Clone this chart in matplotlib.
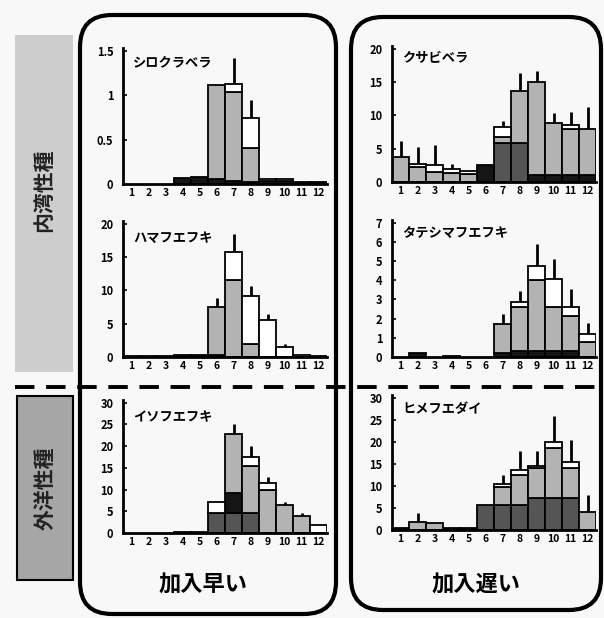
import matplotlib
matplotlib.use('Agg')
import matplotlib.pyplot as plt
from matplotlib.patches import FancyBboxPatch, Rectangle
import numpy as np

plt.rcParams['font.family'] = ['Noto Sans CJK JP', 'DejaVu Sans']
plt.rcParams['font.weight'] = 'bold'

months = np.arange(1, 13)
month_labels = [str(m) for m in months]

# layers per month, stacked bottom->top: mid (dark gray), dark (black), gray, white
# err_top = upper end of the error bar (0 = none)
shiro_name = 'シロクラベラ'
shiro_mid = [0] * 12
shiro_dark = [0, 0, 0, 0.07, 0.08, 0.06, 0.03, 0.02, 0.03, 0.03, 0.02, 0.02]
shiro_gray = [0, 0, 0, 0, 0, 1.05, 1.0, 0.38, 0, 0, 0, 0]
shiro_white = [0, 0, 0, 0, 0, 0, 0.09, 0.34, 0.03, 0.03, 0, 0]
shiro_err = [0, 0, 0, 0, 0, 0, 1.42, 0.94, 0, 0, 0, 0]

kusabi_name = 'クサビベラ'
kusabi_mid = [0, 0, 0, 0, 0, 0, 5.8, 5.8, 0, 0, 0, 0]
kusabi_dark = [0, 0, 0, 0, 0, 2.5, 0, 0, 1.0, 1.0, 1.0, 1.0]
kusabi_gray = [3.7, 2.2, 1.5, 1.4, 1.2, 0, 0.9, 7.9, 14.0, 7.8, 7.0, 7.0]
kusabi_white = [0, 0.5, 1.0, 0.5, 0.5, 0, 1.5, 0, 0, 0, 0.5, 0]
kusabi_err = [6.2, 5.2, 5.5, 2.7, 0, 0, 9.2, 16.3, 16.7, 10.3, 10.5, 11.2]

hama_name = 'ハマフエフキ'
hama_mid = [0] * 12
hama_dark = [0.1, 0.1, 0.1, 0.3, 0.3, 0.3, 0, 0, 0, 0, 0, 0.2]
hama_gray = [0, 0, 0, 0, 0, 7.2, 11.5, 2.0, 0, 0, 0, 0]
hama_white = [0, 0, 0, 0, 0, 0, 4.2, 7.2, 5.5, 1.5, 0.3, 0]
hama_err = [0, 0, 0, 0, 0, 8.8, 18.5, 10.7, 6.5, 2.0, 0, 0]

tate_name = 'タテシマフエフキ'
tate_mid = [0] * 12
tate_dark = [0, 0.2, 0, 0.05, 0, 0, 0.2, 0.3, 0.3, 0.3, 0.3, 0]
tate_gray = [0, 0, 0, 0, 0, 0, 1.5, 2.3, 3.7, 2.3, 1.85, 0.8]
tate_white = [0, 0, 0, 0, 0, 0, 0, 0.25, 0.75, 1.45, 0.45, 0.4]
tate_err = [0, 0, 0, 0, 0, 0, 2.25, 3.45, 5.9, 5.1, 3.55, 1.75]

iso_name = 'イソフエフキ'
iso_mid = [0, 0, 0, 0, 0, 4.7, 4.7, 4.6, 0, 0, 0, 0]
iso_dark = [0, 0, 0, 0.3, 0.3, 0, 4.4, 0, 0, 0, 0, 0]
iso_gray = [0, 0, 0, 0, 0, 0, 13.6, 10.9, 9.8, 6.4, 3.8, 0]
iso_white = [0, 0, 0, 0, 0, 2.5, 0, 1.9, 1.6, 0, 0, 1.9]
iso_err = [0, 0, 0, 0, 0, 0, 25, 20, 12.9, 7.2, 4.5, 0]

hime_name = 'ヒメフエダイ'
hime_mid = [0, 0, 0, 0, 0, 5.6, 5.6, 5.6, 7.2, 7.2, 7.2, 0]
hime_dark = [0.5, 0, 0, 0.5, 0.5, 0, 0, 0, 0, 0, 0, 0]
hime_gray = [0, 1.9, 1.5, 0, 0, 0, 4.2, 6.8, 6.8, 11.5, 6.8, 4.1]
hime_white = [0, 0, 0, 0, 0, 0, 0.7, 1.1, 0.6, 1.2, 1.4, 0]
hime_err = [0, 3.8, 0, 0, 0, 0, 12.4, 18, 18, 25.9, 20.3, 7.9]

W, H = 604, 618
fig = plt.figure(figsize=(W / 100, H / 100), dpi=100)
fig.patch.set_facecolor('#f8f8f8')

# background layer in pixel coordinates
bg = fig.add_axes([0, 0, 1, 1])
bg.set_xlim(0, W)
bg.set_ylim(H, 0)
bg.axis('off')

bg.add_patch(Rectangle((15, 35), 58, 337, facecolor='#cdcdcd', edgecolor='none'))
bg.add_patch(Rectangle((17, 396), 56, 184, facecolor='#a6a6a6', edgecolor='black', lw=1.5))
bg.text(44, 190, '内湾性種', rotation=90, ha='center', va='center', fontsize=15, fontweight='bold', color='#222')
bg.text(45, 488, '外洋性種', rotation=90, ha='center', va='center', fontsize=15, fontweight='bold', color='#222')

for x0, y0, w, h in [(80, 15, 256, 599), (351, 17, 250, 593)]:
    bg.add_patch(FancyBboxPatch((x0, y0), w, h, boxstyle='round,pad=0,rounding_size=32',
                                facecolor='none', edgecolor='black', lw=3))
bg.plot([15, 604], [387, 387], color='black', lw=2.8, linestyle=(0, (5, 3)))

bg.text(203, 585, '加入早い', ha='center', va='center', fontsize=16, fontweight='bold')
bg.text(476, 585, '加入遅い', ha='center', va='center', fontsize=16, fontweight='bold')

layer_colors = ['#555555', '#151515', '#b3b3b3', 'white']


def draw_panel(rect, name, layers, err, ymax, yticks, yticklabels, title_y):
    x0, y0, x1, y1 = rect
    ax = fig.add_axes([x0 / W, 1 - y1 / H, (x1 - x0) / W, (y1 - y0) / H])
    ax.patch.set_alpha(0)
    bottom = np.zeros(12)
    for vals, color in zip(layers, layer_colors):
        vals = np.array(vals, dtype=float)
        m = vals > 0
        ax.bar(months[m], vals[m], width=1.0, bottom=bottom[m], color=color,
               edgecolor='black', linewidth=1.3, zorder=2)
        bottom += vals
    err = np.array(err, dtype=float)
    m = err > bottom
    ax.vlines(months[m], bottom[m], err[m], color='black', lw=2, zorder=1)
    ax.set_xlim(0.5, 12.5)
    ax.set_ylim(0, ymax * 1.02)
    for s in ['top', 'right']:
        ax.spines[s].set_visible(False)
    for s in ['left', 'bottom']:
        ax.spines[s].set_linewidth(2)
    ax.set_xticks(months)
    ax.set_xticklabels(month_labels, fontsize=7.5, fontweight='bold')
    ax.set_yticks(yticks)
    ax.set_yticklabels(yticklabels, fontsize=8, fontweight='bold')
    ax.tick_params(axis='y', direction='in', length=3, width=1.2, pad=7)
    ax.tick_params(axis='x', length=0, pad=3)
    ax.text(0.05, title_y, name, transform=ax.transAxes, fontsize=9.5,
            fontweight='bold', va='top', ha='left')
    return ax


draw_panel((123, 48, 327, 184), shiro_name,
           [shiro_mid, shiro_dark, shiro_gray, shiro_white], shiro_err,
           1.5, [0, 0.5, 1, 1.5], ['0', '0.5', '1', '1.5'], 0.95)
draw_panel((392, 46, 596, 182), kusabi_name,
           [kusabi_mid, kusabi_dark, kusabi_gray, kusabi_white], kusabi_err,
           20, [0, 5, 10, 15, 20], ['0', '5', '10', '15', '20'], 0.96)
draw_panel((123, 221, 327, 357), hama_name,
           [hama_mid, hama_dark, hama_gray, hama_white], hama_err,
           20, [0, 5, 10, 15, 20], ['0', '5', '10', '15', '20'], 0.93)
draw_panel((392, 220, 596, 357), tate_name,
           [tate_mid, tate_dark, tate_gray, tate_white], tate_err,
           7, list(range(8)), [str(v) for v in range(8)], 0.95)
draw_panel((123, 400, 327, 533), iso_name,
           [iso_mid, iso_dark, iso_gray, iso_white], iso_err,
           30, [0, 5, 10, 15, 20, 25, 30], ['0', '5', '10', '15', '20', '25', '30'], 0.92)
draw_panel((392, 395, 596, 530), hime_name,
           [hime_mid, hime_dark, hime_gray, hime_white], hime_err,
           30, [0, 5, 10, 15, 20, 25, 30], ['0', '5', '10', '15', '20', '25', '30'], 0.95)

fig.savefig('out.png', dpi=100, facecolor=fig.get_facecolor())
